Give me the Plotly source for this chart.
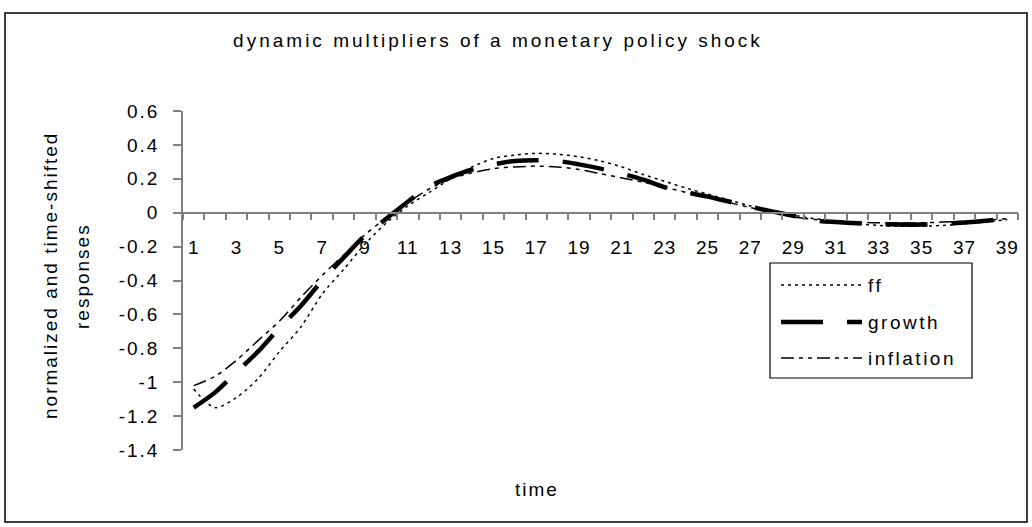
import plotly.graph_objects as go

# ---- data ----
time = list(range(1, 40))
tick_labels = [str(t) for t in range(1, 40, 2)]
series_names = ["ff", "growth", "inflation"]

ff = [-1.04, -1.15, -1.09, -0.98, -0.82, -0.675, -0.48, -0.335, -0.185, -0.06,
      0.04, 0.12, 0.20, 0.27, 0.32, 0.34, 0.35, 0.345, 0.33, 0.305,
      0.27, 0.225, 0.185, 0.145, 0.11, 0.075, 0.04, 0.01, -0.015, -0.035,
      -0.05, -0.065, -0.075, -0.08, -0.08, -0.075, -0.065, -0.055, -0.04]
growth = [-1.15, -1.06, -0.94, -0.82, -0.68, -0.55, -0.40, -0.265, -0.135, -0.035,
          0.065, 0.155, 0.21, 0.255, 0.285, 0.305, 0.31, 0.305, 0.285, 0.26,
          0.23, 0.195, 0.15, 0.12, 0.095, 0.065, 0.035, 0.008, -0.018, -0.045,
          -0.055, -0.062, -0.067, -0.07, -0.07, -0.065, -0.058, -0.048, -0.035]
inflation = [-1.02, -0.965, -0.87, -0.755, -0.64, -0.50, -0.37, -0.25, -0.13, -0.03,
             0.06, 0.14, 0.20, 0.235, 0.26, 0.27, 0.275, 0.27, 0.255, 0.23,
             0.205, 0.18, 0.15, 0.12, 0.09, 0.06, 0.03, 0.0, -0.025, -0.04,
             -0.05, -0.055, -0.06, -0.06, -0.06, -0.055, -0.05, -0.045, -0.035]

y_ticks = [0.6, 0.4, 0.2, 0, -0.2, -0.4, -0.6, -0.8, -1, -1.2, -1.4]
y_min, y_max = -1.4, 0.6

FONT = "Liberation Sans, Arial, sans-serif"
AXIS_COLOR = "#808080"


def spaced(text, px):
    return '<span style="letter-spacing:%spx">%s</span>' % (px, text)


styles = {
    "ff": dict(color="black", width=1.5, dash="3px,4px"),
    "growth": dict(color="black", width=4.5, dash="42px,24px"),
    "inflation": dict(color="black", width=1.5, dash="13px,5px,4px,5px,4px,5px"),
}
values = {"ff": ff, "growth": growth, "inflation": inflation}

fig = go.Figure()
for name in series_names:
    fig.add_trace(go.Scatter(
        x=time, y=values[name], name=name, mode="lines",
        line=dict(shape="spline", smoothing=0.8, **styles[name]),
        showlegend=False,
    ))

W, H = 1032, 527
PL, PR, PT, PB = 183, 1018, 111, 450   # plot area in window pixels
pw, ph = PR - PL, PB - PT


def px_to_paper_x(px):
    return (px - PL) / pw


def px_to_paper_y(py):
    return (PB - py) / ph


fig.update_layout(
    width=W, height=H,
    margin=dict(l=PL, r=W - PR, t=PT, b=H - PB, pad=0),
    paper_bgcolor="white", plot_bgcolor="white",
    font=dict(family=FONT, size=19, color="black"),
    title=dict(text=spaced("dynamic multipliers of a monetary policy shock", 3),
               x=px_to_paper_x(498), xref="paper", xanchor="center",
               y=1 - 40 / H, yref="container", yanchor="middle",
               font=dict(family=FONT, size=19, color="black")),
    xaxis=dict(
        range=[0.5, 39.5], type="linear",
        tickmode="array", tickvals=list(range(1, 40, 2)),
        ticktext=[spaced(t, 1) for t in tick_labels],
        ticks="", showgrid=False, zeroline=False,
        showline=True, linecolor=AXIS_COLOR, linewidth=1.5,
        anchor="free", position=(0 - y_min) / (y_max - y_min),
        ticklabelstandoff=18,
        tickfont=dict(family=FONT, size=19, color="black"),
        minor=dict(tickmode="array", tickvals=[i + 0.5 for i in range(0, 40)],
                   ticks="outside", ticklen=7, tickcolor=AXIS_COLOR, tickwidth=1.5,
                   showgrid=False),
    ),
    yaxis=dict(
        range=[y_min, y_max], tickmode="array", tickvals=y_ticks,
        ticktext=[spaced("%g" % v, 2) for v in y_ticks],
        ticks="outside", ticklen=8, tickcolor=AXIS_COLOR, tickwidth=1.5,
        showgrid=False, zeroline=False,
        showline=True, linecolor=AXIS_COLOR, linewidth=1.5,
        ticklabelstandoff=10,
        tickfont=dict(family=FONT, size=19, color="black"),
    ),
)

# axis titles
fig.add_annotation(text=spaced("normalized and time-shifted", 2),
                   xref="paper", yref="paper",
                   x=px_to_paper_x(50), y=px_to_paper_y(276),
                   xanchor="center", yanchor="middle", textangle=-90,
                   showarrow=False, font=dict(family=FONT, size=19, color="black"))
fig.add_annotation(text=spaced("responses", 2),
                   xref="paper", yref="paper",
                   x=px_to_paper_x(82), y=px_to_paper_y(276),
                   xanchor="center", yanchor="middle", textangle=-90,
                   showarrow=False, font=dict(family=FONT, size=19, color="black"))
fig.add_annotation(text=spaced("time", 2), xref="paper", yref="paper",
                   x=px_to_paper_x(537), y=px_to_paper_y(490),
                   xanchor="center", yanchor="middle",
                   showarrow=False, font=dict(family=FONT, size=19, color="black"))

# outer chart border
fig.add_shape(type="rect", xref="paper", yref="paper",
              x0=px_to_paper_x(5), x1=px_to_paper_x(1027),
              y0=px_to_paper_y(522), y1=px_to_paper_y(13),
              line=dict(color="black", width=1.5), fillcolor="rgba(0,0,0,0)",
              layer="above")

# legend box
fig.add_shape(type="rect", xref="paper", yref="paper",
              x0=px_to_paper_x(770), x1=px_to_paper_x(972),
              y0=px_to_paper_y(378), y1=px_to_paper_y(263),
              line=dict(color="black", width=1.2), fillcolor="white", layer="above")
row_y = [285, 322, 358]
for name, ry in zip(series_names, row_y):
    fig.add_shape(type="line", xref="paper", yref="paper",
                  x0=px_to_paper_x(781), x1=px_to_paper_x(862),
                  y0=px_to_paper_y(ry), y1=px_to_paper_y(ry),
                  line=styles[name], layer="above")
    fig.add_annotation(text=spaced(name, 2.5), xref="paper", yref="paper",
                       x=px_to_paper_x(866), y=px_to_paper_y(ry),
                       xanchor="left", yanchor="middle", showarrow=False,
                       font=dict(family=FONT, size=19, color="black"))

fig.write_html("out.html",
               config={"displayModeBar": False},
               post_script="document.body.style.margin='0';document.body.style.padding='0';")
